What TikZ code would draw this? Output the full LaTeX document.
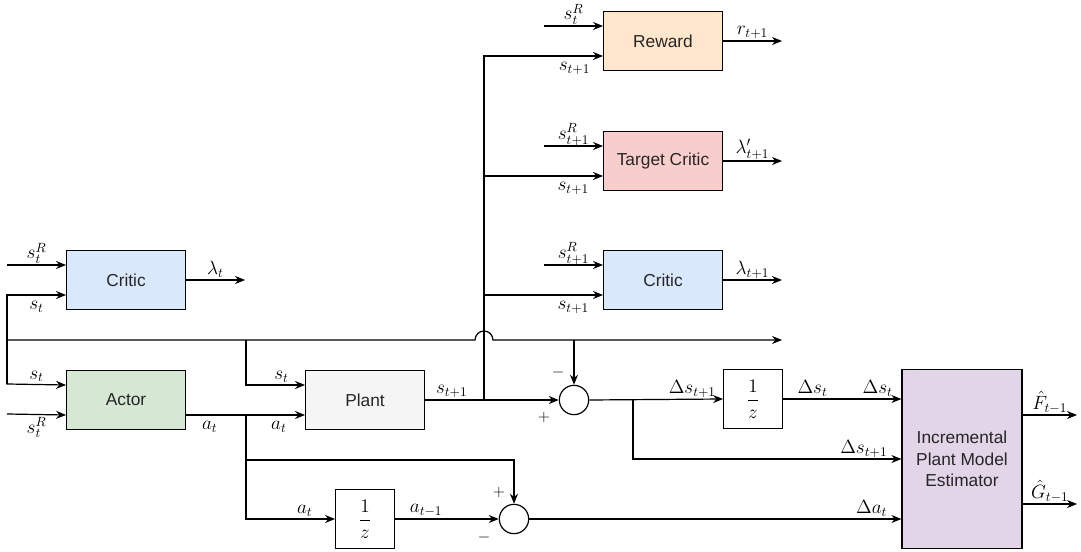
\documentclass[tikz,border=0pt]{standalone}
\usepackage{fontspec}
\setmainfont{Liberation Sans}
\usetikzlibrary{arrows.meta,positioning,calc}
\definecolor{cblue}{HTML}{DAE8FC}
\definecolor{cgreen}{HTML}{D5E8D4}
\definecolor{cgrey}{HTML}{F5F5F5}
\definecolor{corange}{HTML}{FFE6CC}
\definecolor{cred}{HTML}{F8CECC}
\definecolor{cpurple}{HTML}{E1D5E7}
\begin{document}
\begin{tikzpicture}[x=0.75pt, y=-0.75pt,
    block/.style={draw, line width=0.9pt, minimum width=89pt, minimum height=44pt, align=center, font=\fontsize{13}{16}\selectfont, text=black!85},
    delay/.style={draw, line width=0.9pt, minimum size=44pt, inner sep=0pt, font=\fontsize{13.5}{15}\selectfont},
    sumnode/.style={draw, circle, line width=0.9pt, minimum size=22pt, inner sep=0pt},
    arr/.style={-{Stealth[length=7.5pt, width=6pt]}, line width=0.9pt},
    lbl/.style={font=\fontsize{14.5}{16}\selectfont, inner sep=1.5pt},
    lblb/.style={lbl, below, yshift=-3pt},
    sgn/.style={font=\fontsize{13}{14}\selectfont, inner sep=0pt}
]
\useasboundingbox (0,0) rectangle (1081,552);

\node[block, fill=cblue] (critic) at (126,280) {Critic};
\node[block, fill=cgreen] (actor) at (126,400) {Actor};
\node[block, fill=cgrey] (plant) at (365,400) {Plant};
\node[block, fill=corange] (reward) at (663,41) {Reward};
\node[block, fill=cred] (tcritic) at (663,161) {Target Critic};
\node[block, fill=cblue] (critic2) at (663,280) {Critic};
\node[sumnode] (sumS) at (574,400) {};
\node[sumnode] (sumA) at (514,519) {};
\node[delay] (delayA) at (365,519) {$\displaystyle\frac{1}{z}$};
\node[delay] (delayS) at (753,399) {$\displaystyle\frac{1}{z}$};
\node[block, fill=cpurple, minimum width=90pt, minimum height=134pt] (est) at (962,459) {Incremental\\Plant Model\\Estimator};

\coordinate (srC) at (7,265);
\coordinate (stC) at (7,295);
\coordinate (stA) at (7,384);
\coordinate (srA) at (7,414);
\coordinate (busL) at (7,340);
\coordinate (hopL) at (475,340);
\coordinate (busEnd) at (782,340);
\coordinate (stP) at (246,340);
\coordinate (busS) at (574,340);
\coordinate (lamOut) at (245,280);
\coordinate (aJ) at (246,414);
\coordinate (aK) at (246,460);
\coordinate (sJ) at (484,400);
\coordinate (sJ2) at (484,176);
\coordinate (sJ3) at (484,295);
\coordinate (srR) at (544,26);
\coordinate (srT) at (544,146);
\coordinate (srK) at (544,265);
\coordinate (rOut) at (782,41);
\coordinate (tOut) at (782,161);
\coordinate (kOut) at (782,280);
\coordinate (dJ) at (633,400);
\coordinate (fOut) at (1077,415);
\coordinate (gOut) at (1077,504);

\draw[arr] (srC) -- ($(critic.west)+(0,-15)$) node[lbl, above, midway, inner sep=0.5pt] {$s_t^R$};
\draw[arr] (stA) -- (stC) -- ($(critic.west)+(0,15)$) node[lblb, midway] {$s_t$};
\draw[arr] (stC) -- (stA) -- ($(actor.west)+(0,-15)$) node[lbl, above, midway] {$s_t$};
\draw[arr] (srA) -- ($(actor.west)+(0,15)$) node[lbl, below, midway] {$s_t^R$};
\draw[arr] (critic.east) -- (lamOut) node[lbl, above, midway] {$\lambda_t$};
\draw[arr] (busL) -- (hopL) arc[start angle=180, end angle=0, radius=6.75pt] -- (busEnd);
\draw[arr] (stP) |- ($(plant.west)+(0,-15)$) node[lbl, above, pos=0.8] {$s_t$};
\draw[arr] ($(actor.east)+(0,15)$) -- ($(plant.west)+(0,15)$)
    node[lblb, pos=0.2] {$a_t$} node[lblb, pos=0.78] {$a_t$};

\draw[arr] (aJ) -- (aK) -| (sumA.north);
\draw[arr] (aK) |- (delayA.west) node[lbl, above, pos=0.83] {$a_t$};
\draw[arr] (delayA) -- (sumA) node[lbl, above, pos=0.3] {$a_{t-1}$};
\node[sgn] (plusA) at (499,492) {$+$};
\node[sgn] (minusA) at (484,537) {$-$};

\draw[arr] (plant.east) -- (sumS.west) node[lbl, above, pos=0.2] {$s_{t+1}$};
\draw[arr] (sJ) |- ($(reward.west)+(0,15)$) node[lblb, pos=0.88] {$s_{t+1}$};
\draw[arr] (sJ2) -- ($(tcritic.west)+(0,15)$) node[lblb, pos=0.75] {$s_{t+1}$};
\draw[arr] (sJ3) -- ($(critic2.west)+(0,15)$) node[lblb, pos=0.75] {$s_{t+1}$};
\draw[arr] (srR) -- ($(reward.west)+(0,-15)$) node[lbl, above, midway, inner sep=0.5pt] {$s_t^R$};
\draw[arr] (srT) -- ($(tcritic.west)+(0,-15)$) node[lbl, above, midway, inner sep=0pt] {$s_{t+1}^R$};
\draw[arr] (srK) -- ($(critic2.west)+(0,-15)$) node[lbl, above, midway, inner sep=0pt] {$s_{t+1}^R$};
\draw[arr] (reward.east) -- (rOut) node[lbl, above, midway] {$r_{t+1}$};
\draw[arr] (tcritic.east) -- (tOut) node[lbl, above, midway, inner sep=0.5pt] {$\lambda'_{t+1}$};
\draw[arr] (critic2.east) -- (kOut) node[lbl, above, midway, inner sep=0.5pt] {$\lambda_{t+1}$};

\draw[arr] (busS) -- (sumS.north);
\node[sgn] (minusS) at (558,372) {$-$};
\node[sgn] (plusS) at (544,417) {$+$};

\draw[arr] (sumS.east) -- (delayS.west) node[lbl, above, pos=0.77, inner sep=0.5pt] {$\Delta s_{t+1}$};
\draw[arr] (delayS.east) -- (est.west |- delayS.east)
    node[lbl, above, pos=0.25] {$\Delta s_t$} node[lbl, above, pos=0.8] {$\Delta s_t$};
\draw[arr] (dJ) |- (est.west) node[lbl, above, pos=0.93, inner sep=0.5pt] {$\Delta s_{t+1}$};
\draw[arr] (sumA.east) -- (est.west |- sumA.east) node[lbl, above, pos=0.92] {$\Delta a_t$};
\draw[arr] ($(est.east)+(0,-44)$) -- (fOut) node[lbl, above, midway, inner sep=0.5pt] {$\hat{F}_{t-1}$};
\draw[arr] ($(est.east)+(0,45)$) -- (gOut) node[lbl, above, midway, inner sep=0.5pt] {$\hat{G}_{t-1}$};
\end{tikzpicture}
\end{document}
